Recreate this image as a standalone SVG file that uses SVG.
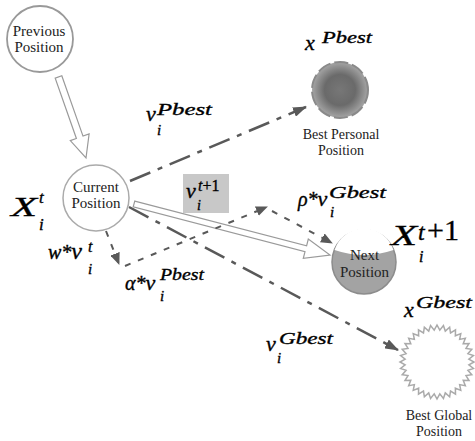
<svg xmlns="http://www.w3.org/2000/svg" width="475" height="441" viewBox="0 0 475 441" font-family="'Liberation Serif', 'Times New Roman', Times, serif">
<style>
text{font-family:'Liberation Serif','Times New Roman',Times,serif}
.node{font-size:15px;fill:#222;text-anchor:middle}
.nodes{font-size:14px;fill:#222;text-anchor:middle}
.m{font-style:italic;fill:#000;stroke:#000;stroke-width:0.35}
.up{font-style:normal}
.dd{fill:none;stroke:#595959;stroke-width:2.5;stroke-dasharray:22 8 5 8}
.ds{fill:none;stroke:#595959;stroke-width:2;stroke-dasharray:6 8}
.hollow{fill:#fff;stroke:#9a9a9a;stroke-width:1.2}
</style>
<defs>
<marker id="ah" markerUnits="userSpaceOnUse" markerWidth="14" markerHeight="10" viewBox="0 0 14 10" refX="13" refY="5" orient="auto">
<path d="M0,0 L14,5 L0,10 z" fill="#595959"/>
</marker>
<marker id="ahs" markerUnits="userSpaceOnUse" markerWidth="12" markerHeight="10" viewBox="0 0 12 10" refX="11" refY="5" orient="auto">
<path d="M0,0 L12,5 L0,10 z" fill="#595959"/>
</marker>
<radialGradient id="pg" cx="0.5" cy="0.5" r="0.5">
<stop offset="0" stop-color="#777"/>
<stop offset="0.55" stop-color="#6a6a6a"/>
<stop offset="1" stop-color="#a5a5a5"/>
</radialGradient>
</defs>

<g id="connectors">
<polygon class="hollow" points="61.8,75.8 83.0,136.1 89.1,134.0 86,158 70.3,140.6 76.4,138.5 55.2,78.2"/>
<line class="dd" x1="130" y1="181" x2="306" y2="107" marker-end="url(#ah)"/>
<line class="dd" x1="129" y1="207" x2="398" y2="350" marker-end="url(#ah)"/>
<polygon class="hollow" points="134.8,201.1 306.6,245.8 308.3,239.0 330,255 303.3,258.4 305.0,251.6 133.2,206.9"/>
<line class="ds" x1="106" y1="231" x2="119" y2="264" marker-end="url(#ahs)"/>
<line class="ds" x1="125" y1="266" x2="267" y2="207" marker-end="url(#ahs)"/>
<line class="ds" x1="272" y1="211" x2="332" y2="243" marker-end="url(#ahs)"/>
</g>

<g id="previous">
<circle cx="40" cy="39" r="33" fill="#fff" stroke="#999" stroke-width="1.8"/>
<text class="node" x="39" y="36">Previous</text>
<text class="node" x="39" y="52">Position</text>
</g>

<g id="current">
<circle cx="96" cy="198" r="33" fill="#fff" stroke="#aaa" stroke-width="1.5"/>
<text class="node" x="96" y="192">Current</text>
<text class="node" x="96" y="208">Position</text>
</g>

<g id="best-personal">
<circle cx="340" cy="90" r="28" fill="url(#pg)" stroke="#8a8a8a" stroke-width="2" stroke-dasharray="14 4"/>
<text class="nodes" x="341" y="139">Best Personal</text>
<text class="nodes" x="341" y="155">Position</text>
</g>

<g id="next">
<circle cx="364" cy="262" r="32" fill="#a3a3a3" stroke="#8c8c8c" stroke-width="1.5"/>
<path d="M334.5,250 A31,31 0 0 1 393.5,250 Q364,260 334.5,250 Z" fill="#fff"/>
<text class="node" x="364.5" y="260">Next</text>
<text class="node" x="364.5" y="277">Position</text>
</g>

<g id="best-global">
<polygon fill="#fff" stroke="#aaa" stroke-width="1.5" transform="translate(-1,0)" points="475,362 469.88,364.79 474.44,368.42 468.91,370.28 472.77,374.65 467,375.52 470.04,380.5 464.21,380.36 466.34,385.78 460.63,384.63 461.78,390.34 456.36,388.21 456.5,394.04 451.52,391 450.65,396.77 446.28,392.91 444.42,398.44 440.79,393.88 438,399 435.21,393.88 431.58,398.44 429.72,392.91 425.35,396.77 424.48,391 419.5,394.04 419.64,388.21 414.22,390.34 415.37,384.63 409.66,385.78 411.79,380.36 405.96,380.5 409,375.52 403.23,374.65 407.09,370.28 401.56,368.42 406.12,364.79 401,362 406.12,359.21 401.56,355.58 407.09,353.72 403.23,349.35 409,348.48 405.96,343.5 411.79,343.64 409.66,338.22 415.37,339.37 414.22,333.66 419.64,335.79 419.5,329.96 424.48,333 425.35,327.23 429.72,331.09 431.58,325.56 435.21,330.12 438,325 440.79,330.12 444.42,325.56 446.28,331.09 450.65,327.23 451.52,333 456.5,329.96 456.36,335.79 461.78,333.66 460.63,339.37 466.34,338.22 464.21,343.64 470.04,343.5 467,348.48 472.77,349.35 468.91,353.72 474.44,355.58 469.88,359.21"/>
<text class="nodes" x="439" y="420">Best Global</text>
<text class="nodes" x="439" y="436">Position</text>
</g>

<g id="labels">
<text class="m" x="11" y="216" font-size="28" textLength="26" lengthAdjust="spacingAndGlyphs">X</text>
<text class="m" x="39" y="203" font-size="17">t</text>
<text class="m" x="39" y="230" font-size="17">i</text>

<text class="m" x="391" y="245" font-size="29" textLength="26" lengthAdjust="spacingAndGlyphs">X</text>
<text class="m" x="418" y="240" font-size="24">t</text>
<text class="m up" x="427" y="240" font-size="30">+1</text>
<text class="m" x="419" y="262" font-size="16">i</text>

<text class="m" x="305" y="50" font-size="22">x</text>
<text class="m" x="322" y="43" font-size="17" textLength="50" lengthAdjust="spacingAndGlyphs">Pbest</text>

<text class="m" x="146" y="121" font-size="22">v</text>
<text class="m" x="157" y="115" font-size="17" textLength="55" lengthAdjust="spacingAndGlyphs">Pbest</text>
<text class="m" x="157" y="135" font-size="15">i</text>

<text class="m" x="404" y="317" font-size="22">x</text>
<text class="m" x="416" y="308" font-size="17" textLength="56" lengthAdjust="spacingAndGlyphs">Gbest</text>

<text class="m" x="266" y="351" font-size="22">v</text>
<text class="m" x="279" y="344" font-size="17" textLength="54" lengthAdjust="spacingAndGlyphs">Gbest</text>
<text class="m" x="277" y="363" font-size="15">i</text>

<rect x="183" y="174" width="46" height="39" fill="#c8c8c8"/>
<text class="m" x="186" y="198" font-size="22">v</text>
<text class="m" x="198" y="191" font-size="16">t<tspan class="up">+1</tspan></text>
<text class="m" x="197" y="210" font-size="14">i</text>

<text class="m" x="298" y="206" font-size="20">ρ*<tspan font-size="22">v</tspan></text>
<text class="m" x="329" y="198" font-size="17" textLength="57" lengthAdjust="spacingAndGlyphs">Gbest</text>
<text class="m" x="330" y="217" font-size="15">i</text>

<text class="m" x="48" y="259" font-size="20">w*<tspan font-size="24">v</tspan></text>
<text class="m" x="88" y="252" font-size="16">t</text>
<text class="m" x="88" y="274" font-size="15">i</text>

<text class="m" x="125" y="290" font-size="20">α*<tspan font-size="22">v</tspan></text>
<text class="m" x="160" y="280" font-size="17" textLength="44" lengthAdjust="spacingAndGlyphs">Pbest</text>
<text class="m" x="160" y="301" font-size="15">i</text>
</g>
</svg>
